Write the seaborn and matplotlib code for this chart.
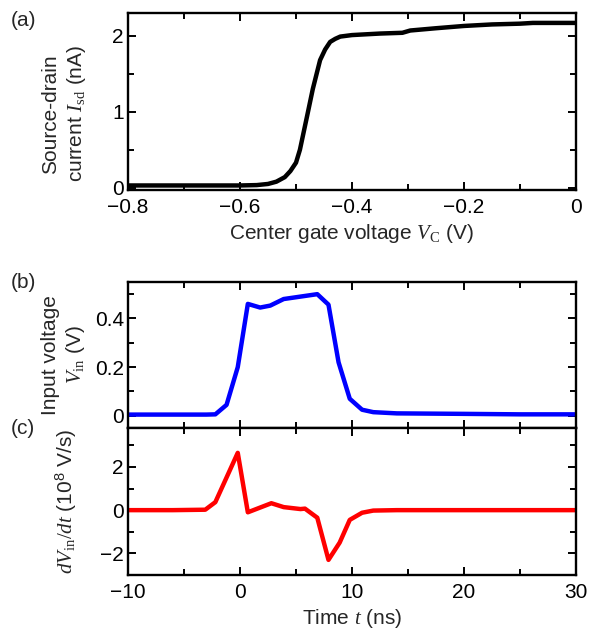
import numpy as np
import pandas as pd
import matplotlib
matplotlib.use("Agg")
import matplotlib.pyplot as plt
from matplotlib.ticker import MultipleLocator
import seaborn as sns

# (a) source-drain current vs center gate voltage
vc = [-0.8, -0.7, -0.6, -0.57, -0.55, -0.535, -0.52, -0.51, -0.50, -0.493, -0.48, -0.47,
      -0.457, -0.448, -0.439, -0.43, -0.421, -0.40, -0.35, -0.31, -0.296, -0.25, -0.2,
      -0.15, -0.1, -0.077, -0.04, 0.0]
isd = [0.03, 0.03, 0.03, 0.035, 0.05, 0.08, 0.14, 0.22, 0.33, 0.5, 0.95, 1.3,
       1.68, 1.82, 1.92, 1.96, 1.99, 2.01, 2.03, 2.04, 2.07, 2.1, 2.13,
       2.15, 2.16, 2.17, 2.17, 2.17]

# (b) input voltage vs time
t_b = [-10, -6, -3, -2.2, -1.2, -0.2, 0.7, 1.8, 2.7, 3.9, 5.4, 6.9, 7.9, 8.8, 9.8, 10.9,
       11.9, 14, 20, 25, 30]
vin = [0.005, 0.005, 0.005, 0.006, 0.045, 0.2, 0.46, 0.445, 0.453, 0.48, 0.49, 0.50,
       0.457, 0.22, 0.07, 0.025, 0.015, 0.01, 0.008, 0.006, 0.006]

# (c) derivative dVin/dt vs time
t_c = [-10, -6, -3.1, -2.2, -0.2, 0.7, 2.8, 3.9, 5.4, 5.8, 6.9, 7.9, 8.9, 9.8, 10.9,
       11.9, 14, 20, 25, 30]
dvdt = [0.0, 0.0, 0.02, 0.37, 2.65, -0.1, 0.32, 0.14, 0.05, 0.07, -0.35, -2.3, -1.5,
        -0.45, -0.12, -0.02, 0.0, 0.0, 0.0, 0.0]

sns.set_style("ticks")
plt.rcParams["font.family"] = ["Liberation Sans", "DejaVu Sans"]
plt.rcParams["mathtext.fontset"] = "custom"
plt.rcParams["mathtext.rm"] = "Liberation Serif"
plt.rcParams["mathtext.it"] = "Liberation Serif:italic"
plt.rcParams["mathtext.sf"] = "Liberation Sans"
fs = 15

fig = plt.figure(figsize=(5.95, 6.33), dpi=100)
ax_a = fig.add_axes([0.2151, 0.6998, 0.753, 0.2796])
ax_b = fig.add_axes([0.2151, 0.3239, 0.753, 0.2306])
ax_c = fig.add_axes([0.2151, 0.0916, 0.753, 0.2323])

df_a = pd.DataFrame({"vc": vc, "isd": isd})
df_b = pd.DataFrame({"t": t_b, "vin": vin})
df_c = pd.DataFrame({"t": t_c, "dvdt": dvdt})

sns.lineplot(data=df_a, x="vc", y="isd", ax=ax_a, color="black", lw=3.2)
sns.lineplot(data=df_b, x="t", y="vin", ax=ax_b, color="#0000ff", lw=3.2)
sns.lineplot(data=df_c, x="t", y="dvdt", ax=ax_c, color="#ff0000", lw=3.2)

for ax in (ax_a, ax_b, ax_c):
    for s in ax.spines.values():
        s.set_linewidth(1.7)
        s.set_color("black")
    ax.tick_params(which="both", direction="in", top=True, right=True,
                   width=1.4, labelsize=fs, colors="black")
    ax.tick_params(which="major", length=5.5)
    ax.tick_params(which="minor", length=4.5)
    ax.tick_params(axis="x", pad=5.5)
    ax.tick_params(axis="y", pad=3)

ax_a.set_xlim(-0.8, 0)
ax_a.set_ylim(-0.03, 2.3)
ax_a.xaxis.set_minor_locator(MultipleLocator(0.1))
ax_a.yaxis.set_minor_locator(MultipleLocator(0.5))
ax_a.set_xticks([-0.8, -0.6, -0.4, -0.2, 0])
ax_a.set_xticklabels(["\u22120.8", "\u22120.6", "\u22120.4", "\u22120.2", "0"])
ax_a.set_yticks([0, 1, 2])
ax_a.set_yticklabels(["0", "1", "2"])
ax_a.set_xlabel(r"Center gate voltage $V_{\mathrm{C}}$ (V)", fontsize=fs, labelpad=4)
ax_a.set_ylabel("Source-drain\n" + r"current $I_{\mathrm{sd}}$ (nA)", fontsize=fs,
                linespacing=1.25)
ax_a.yaxis.set_label_coords(-0.09, 0.43)

for ax in (ax_b, ax_c):
    ax.set_xlim(-10, 30)
    ax.xaxis.set_minor_locator(MultipleLocator(5))

ax_b.set_ylim(-0.05, 0.55)
ax_b.yaxis.set_minor_locator(MultipleLocator(0.1))
ax_b.set_xticks([-10, 0, 10, 20, 30])
ax_b.set_yticks([0, 0.2, 0.4])
ax_b.set_yticklabels(["0", "0.2", "0.4"])
ax_b.tick_params(axis="x", labelbottom=False)
ax_b.set_xlabel("")
ax_b.set_ylabel("Input voltage\n" + r"$V_{\mathrm{in}}$ (V)", fontsize=fs, linespacing=1.25)
ax_b.yaxis.set_label_coords(-0.092, 0.5)

ax_c.set_ylim(-3, 3.8)
ax_c.yaxis.set_minor_locator(MultipleLocator(1))
ax_c.set_yticks([-2, 0, 2])
ax_c.set_yticklabels(["\u22122", "0", "2"])
ax_c.set_xticks([-10, 0, 10, 20, 30])
ax_c.set_xticklabels(["\u221210", "0", "10", "20", "30"])
ax_c.set_xlabel(r"Time $t$ (ns)", fontsize=fs, labelpad=4)
ax_c.set_ylabel(r"$dV_{\mathrm{in}}/dt$ (10$^{\mathsf{8}}$ V/s)", fontsize=fs)
ax_c.yaxis.set_label_coords(-0.11, 0.5)

fig.text(11 / 595, 1 - 11 / 633, "(a)", fontsize=fs, va="top", ha="left")
fig.text(11 / 595, 1 - 273 / 633, "(b)", fontsize=fs, va="top", ha="left")
fig.text(11 / 595, 1 - 419 / 633, "(c)", fontsize=fs, va="top", ha="left")

fig.savefig("out.png", dpi=100)
